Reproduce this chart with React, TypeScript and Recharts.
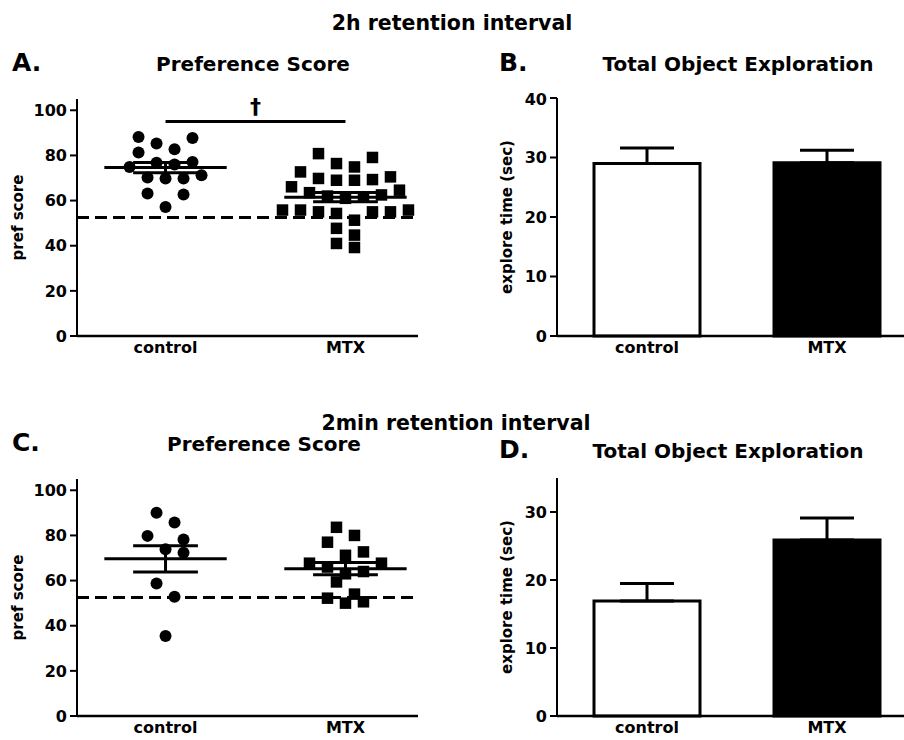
import React from 'react';
import {
  ScatterChart,
  Scatter,
  BarChart,
  Bar,
  Cell,
  ErrorBar,
  XAxis,
  YAxis,
  ReferenceLine,
} from 'recharts';

const groups = ['control', 'MTX'];

// 2h retention interval
const prefControl2h = [88.2, 87.7, 85.3, 82.7, 81.3, 77.1, 76.8, 76.0, 74.9, 71.2, 70.2, 69.8, 69.8, 63.1, 62.7, 57.2];
const prefMtx2h = [
  80.8, 79.1, 76.4, 74.9, 72.7, 70.5, 69.8, 69.3, 69.0, 69.0, 66.1, 64.6, 63.5, 62.5, 62.0,
  61.5, 61.0, 55.8, 55.8, 55.8, 55.0, 55.0, 55.0, 54.3, 51.3, 47.7, 44.7, 41.0, 39.2,
];
const exploreMean2h = [29.0, 29.1];
const exploreSem2h = [2.6, 2.1];

// 2min retention interval
const prefControl2min = [90.0, 85.7, 79.8, 78.2, 73.9, 72.3, 58.7, 52.8, 35.4];
const prefMtx2min = [83.6, 80.0, 77.0, 72.7, 71.2, 67.7, 67.7, 66.0, 64.0, 63.0, 59.4, 54.0, 52.2, 50.6, 50.0];
const exploreMean2min = [16.9, 25.9];
const exploreSem2min = [2.6, 3.2];

const chanceScore = 52.5; // dashed line
const sigLevel = 95; // dagger bracket, 2h only
const prefTicks = [0, 20, 40, 60, 80, 100];
const explore2hTicks = [0, 10, 20, 30, 40];
const explore2minTicks = [0, 10, 20, 30];

const FONT = "'DejaVu Sans', 'Liberation Sans', Arial, sans-serif";
const tickStyle = { fontSize: 16, fontWeight: 700, fill: '#000' };
const axisLabelStyle = { textAnchor: 'middle' as const, fontSize: 15, fontWeight: 700, fill: '#000' };

const mean = (v: number[]) => v.reduce((a, b) => a + b, 0) / v.length;
const sem = (v: number[]) => {
  const m = mean(v);
  const sd = Math.sqrt(v.reduce((a, b) => a + (b - m) ** 2, 0) / (v.length - 1));
  return sd / Math.sqrt(v.length);
};

// prism-like column scatter: group values into rows, spread each row
// around the column centre (highest values outside), and nudge a row
// sideways if it would sit on top of points already placed
const ROW_H = 6;
const STEP = 0.1;
const PX_X = 180; // px per x unit in the panel
const PX_Y = 2.26; // px per score point
const MIN_DIST = 11;
function spread(values: number[], groupX: number) {
  const sorted = [...values].sort((a, b) => b - a);
  const pts: { x: number; y: number }[] = [];
  let i = 0;
  while (i < sorted.length) {
    const top = sorted[i];
    const row: number[] = [];
    while (i < sorted.length && top - sorted[i] < ROW_H) row.push(sorted[i++]);
    const n = row.length;
    const slots = Array.from({ length: n }, (_, k) => k - (n - 1) / 2);
    const order = [...slots].sort((a, b) => Math.abs(b) - Math.abs(a) || a - b);
    const clashes = (shift: number) =>
      row.some((v, k) =>
        pts.some((p) => {
          const dx = (groupX + (order[k] + shift) * STEP - p.x) * PX_X;
          const dy = (v - p.y) * PX_Y;
          return Math.hypot(dx, dy) < MIN_DIST;
        })
      );
    const shift = [0, 0.5, -0.5, 1, -1].find((s) => !clashes(s)) ?? 0;
    row.forEach((v, k) => pts.push({ x: groupX + (order[k] + shift) * STEP, y: v }));
  }
  return pts;
}

const Dot = (p: any) => <circle cx={p.cx} cy={p.cy} r={6} fill="#000" />;
const Square = (p: any) => <rect x={p.cx - 5.75} y={p.cy - 5.75} width={11.5} height={11.5} fill="#000" />;

const MEAN_HALF = 0.34;
const SEM_HALF = 0.18;

const seg = (key: string, x1: number, x2: number, y1: number, y2: number) => [
  <ReferenceLine key={key + 'w'} segment={[{ x: x1, y: y1 }, { x: x2, y: y2 }]} stroke="#fff" strokeWidth={5} />,
  <ReferenceLine key={key + 'b'} segment={[{ x: x1, y: y1 }, { x: x2, y: y2 }]} stroke="#000" strokeWidth={3} />,
];

const PrefPanel = ({ control, mtx, showSig }: { control: number[]; mtx: number[]; showSig: boolean }) => {
  const ctrlPts = spread(control, 1);
  const mtxPts = spread(mtx, 2);
  const stats = [control, mtx].map((v, i) => ({ x: i + 1, m: mean(v), s: sem(v) }));
  return (
    <ScatterChart width={430} height={270} margin={{ top: 9, right: 12, bottom: 0, left: 0 }}>
      <XAxis
        type="number"
        dataKey="x"
        domain={[0.508, 2.403]}
        ticks={[1, 2]}
        tickFormatter={(v) => groups[v - 1]}
        tickLine={false}
        tickSize={0}
        tickMargin={6}
        height={24}
        axisLine={{ stroke: '#000', strokeWidth: 2.5 }}
        tick={tickStyle}
      />
      <YAxis
        type="number"
        dataKey="y"
        domain={[0, 105]}
        ticks={prefTicks}
        width={77}
        tickSize={7}
        tickMargin={3}
        axisLine={{ stroke: '#000', strokeWidth: 2 }}
        tickLine={{ stroke: '#000', strokeWidth: 2 }}
        tick={tickStyle}
        label={{ value: 'pref score', angle: -90, position: 'insideLeft', offset: 18, style: axisLabelStyle }}
      />
      <ReferenceLine y={chanceScore} stroke="#000" strokeWidth={3} strokeDasharray="12 6" />
      <Scatter data={ctrlPts} shape={Dot} isAnimationActive={false} />
      <Scatter data={mtxPts} shape={Square} isAnimationActive={false} />
      {stats.flatMap((st) => [
        ...seg(`m${st.x}`, st.x - MEAN_HALF, st.x + MEAN_HALF, st.m, st.m),
        ...seg(`hi${st.x}`, st.x - SEM_HALF, st.x + SEM_HALF, st.m + st.s, st.m + st.s),
        ...seg(`lo${st.x}`, st.x - SEM_HALF, st.x + SEM_HALF, st.m - st.s, st.m - st.s),
        <ReferenceLine
          key={`v${st.x}`}
          segment={[{ x: st.x, y: st.m - st.s }, { x: st.x, y: st.m + st.s }]}
          stroke="#000"
          strokeWidth={3}
        />,
      ])}
      {showSig && (
        <ReferenceLine
          segment={[{ x: 1, y: sigLevel }, { x: 2, y: sigLevel }]}
          stroke="#000"
          strokeWidth={3}
          label={{ value: '†', position: 'top', offset: 8, fill: '#000', fontSize: 22, fontWeight: 700 }}
        />
      )}
    </ScatterChart>
  );
};

const ExplorePanel = ({ means, sems, max, ticks }: { means: number[]; sems: number[]; max: number; ticks: number[] }) => {
  const data = groups.map((g, i) => ({ group: g, value: means[i], err: [0, sems[i]] }));
  return (
    <BarChart width={447} height={270} margin={{ top: 8, right: 0, bottom: 0, left: 0 }} data={data} barSize={106}>
      <XAxis
        dataKey="group"
        tickLine={false}
        tickSize={0}
        tickMargin={6}
        height={24}
        axisLine={{ stroke: '#000', strokeWidth: 2.5 }}
        tick={tickStyle}
      />
      <YAxis
        type="number"
        domain={[0, max]}
        ticks={ticks}
        width={87}
        tickSize={7}
        tickMargin={3}
        axisLine={{ stroke: '#000', strokeWidth: 2 }}
        tickLine={{ stroke: '#000', strokeWidth: 2 }}
        tick={tickStyle}
        label={{ value: 'explore time (sec)', angle: -90, position: 'insideLeft', offset: 37, style: axisLabelStyle }}
      />
      <Bar dataKey="value" stroke="#000" strokeWidth={3} isAnimationActive={false}>
        {data.map((d, i) => (
          <Cell key={d.group} fill={i === 0 ? '#fff' : '#000'} />
        ))}
        <ErrorBar dataKey="err" direction="y" width={27} stroke="#000" strokeWidth={3} />
      </Bar>
    </BarChart>
  );
};

const titleText = { fontFamily: FONT, fontWeight: 700, fill: '#000' };

export default function App() {
  return (
    <div
      style={{
        position: 'absolute',
        left: 0,
        top: 0,
        width: 904,
        height: 740,
        overflow: 'hidden',
        background: '#fff',
        fontFamily: FONT,
        fontWeight: 700,
      }}
    >
      <svg width={904} height={740} style={{ position: 'absolute', left: 0, top: 0 }}>
        <text x={452} y={30} textAnchor="middle" fontSize={20.5} {...titleText}>2h retention interval</text>
        <text x={12} y={71} fontSize={25} {...titleText}>A.</text>
        <text x={253} y={71} textAnchor="middle" fontSize={20} {...titleText}>Preference Score</text>
        <text x={499} y={71} fontSize={25} {...titleText}>B.</text>
        <text x={738} y={71} textAnchor="middle" fontSize={20} {...titleText}>Total Object Exploration</text>

        <text x={456} y={430} textAnchor="middle" fontSize={20.5} {...titleText}>2min retention interval</text>
        <text x={12} y={451} fontSize={25} {...titleText}>C.</text>
        <text x={264} y={451} textAnchor="middle" fontSize={20} {...titleText}>Preference Score</text>
        <text x={499} y={458} fontSize={25} {...titleText}>D.</text>
        <text x={728} y={458} textAnchor="middle" fontSize={20} {...titleText}>Total Object Exploration</text>
      </svg>

      <div style={{ position: 'absolute', left: 0, top: 90 }}>
        <PrefPanel control={prefControl2h} mtx={prefMtx2h} showSig />
      </div>
      <div style={{ position: 'absolute', left: 470, top: 90 }}>
        <ExplorePanel means={exploreMean2h} sems={exploreSem2h} max={40} ticks={explore2hTicks} />
      </div>
      <div style={{ position: 'absolute', left: 0, top: 470 }}>
        <PrefPanel control={prefControl2min} mtx={prefMtx2min} showSig={false} />
      </div>
      <div style={{ position: 'absolute', left: 470, top: 470 }}>
        <ExplorePanel means={exploreMean2min} sems={exploreSem2min} max={35} ticks={explore2minTicks} />
      </div>
    </div>
  );
}
